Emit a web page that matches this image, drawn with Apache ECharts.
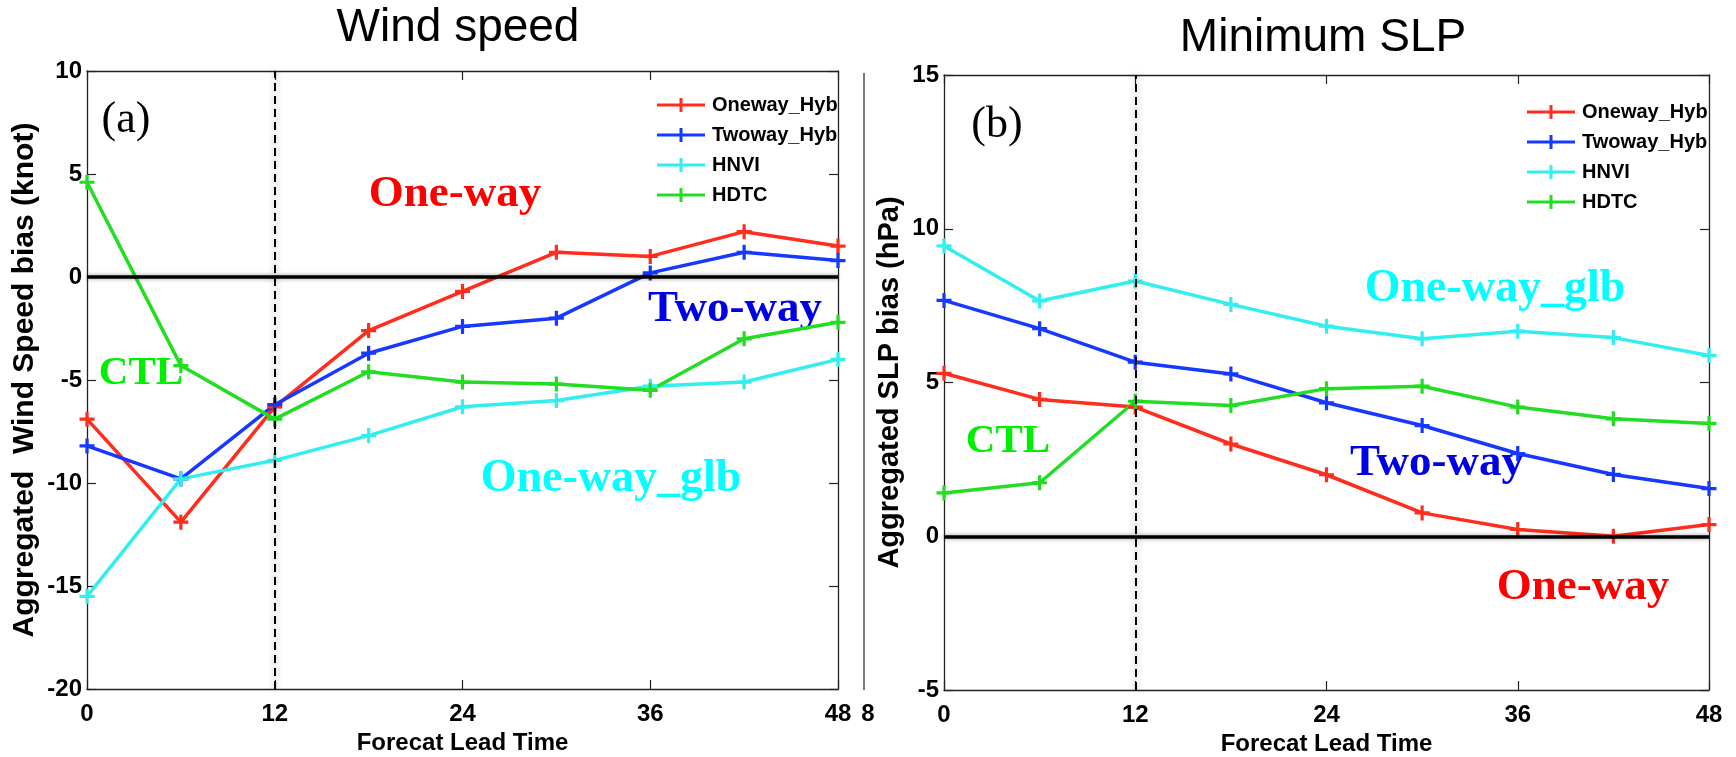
<!DOCTYPE html>
<html>
<head>
<meta charset="utf-8">
<title>Wind speed / Minimum SLP bias</title>
<script src="https://cdn.jsdelivr.net/npm/echarts@6/dist/echarts.min.js"></script>
<style>
  html, body { margin: 0; padding: 0; background: #fff; }
  #chart { width: 1736px; height: 757px; }
</style>
</head>
<body>
<div id="chart"></div>
<script>
// forecast lead times (h)
const leadTimes = [0, 6, 12, 18, 24, 30, 36, 42, 48];

// (a) wind speed bias, knot
const windOneway = [-6.9, -11.9, -6.3, -2.6, -0.7, 1.2, 1.0, 2.2, 1.5];
const windTwoway = [-8.2, -9.8, -6.2, -3.7, -2.4, -2.0, 0.2, 1.2, 0.8];
const windHnvi = [-15.5, -9.8, -8.9, -7.7, -6.3, -6.0, -5.3, -5.1, -4.0];
const windHdtc = [4.6, -4.3, -6.9, -4.6, -5.1, -5.2, -5.5, -3.0, -2.2];

// (b) minimum SLP bias, hPa
const slpOneway = [5.3, 4.45, 4.2, 3.0, 2.0, 0.76, 0.22, 0.0, 0.38];
const slpTwoway = [7.67, 6.75, 5.66, 5.28, 4.34, 3.6, 2.69, 2.01, 1.55];
const slpHnvi = [9.44, 7.65, 8.3, 7.54, 6.83, 6.42, 6.67, 6.46, 5.88];
const slpHdtc = [1.41, 1.74, 4.39, 4.25, 4.8, 4.88, 4.2, 3.82, 3.67];

const seriesNames = ["Oneway_Hyb", "Twoway_Hyb", "HNVI", "HDTC"];
const seriesColors = ["#ff2d1e", "#1638ff", "#33eeee", "#22dd22"];

const plus = "path://M5.5,0 L8.5,0 L8.5,14 L5.5,14 Z M0,5.5 L14,5.5 L14,8.5 L0,8.5 Z";
const legendIcon = "path://M0,5.5 L48,5.5 L48,8.5 L0,8.5 Z M22.5,0 L25.5,0 L25.5,14 L22.5,14 Z";
const sans = "'Liberation Sans', Arial, sans-serif";
const serif = "'Liberation Serif', 'Times New Roman', serif";

const chart = echarts.init(document.getElementById("chart"));

function pairs(values) {
  return leadTimes.map((t, i) => [t, values[i]]);
}

function dataSeries(name, color, values, axis) {
  return {
    name,
    type: "line",
    xAxisIndex: axis,
    yAxisIndex: axis,
    data: pairs(values),
    symbol: plus,
    symbolSize: 15,
    showAllSymbol: true,
    itemStyle: { color },
    lineStyle: { color, width: 3.5 },
    emphasis: { disabled: true },
    animation: false,
    z: 3,
  };
}

function refSeries(axis) {
  return [
    {
      type: "line",
      xAxisIndex: axis,
      yAxisIndex: axis,
      data: [],
      silent: true,
      z: 1,
      markLine: {
        symbol: "none",
        silent: true,
        label: { show: false },
        animation: false,
        data: [{ yAxis: 0, lineStyle: { color: "#000", width: 3.5, type: "solid", shadowColor: "rgba(0,0,0,0.4)", shadowBlur: 4 } }],
      },
    },
    {
      type: "line",
      xAxisIndex: axis,
      yAxisIndex: axis,
      data: [],
      silent: true,
      z: 5,
      markLine: {
        symbol: "none",
        silent: true,
        label: { show: false },
        animation: false,
        data: [{ xAxis: 12, lineStyle: { color: "#000", width: 2, type: [8, 5], shadowColor: "rgba(0,0,0,0.4)", shadowBlur: 6 } }],
      },
    },
  ];
}

function xAxes(grid) {
  const common = {
    type: "value",
    gridIndex: grid,
    min: 0,
    max: 48,
    interval: 12,
    splitLine: { show: false },
    axisLine: { show: true, onZero: false, lineStyle: { color: "#222", width: 1.3 } },
    axisTick: { show: true, inside: true, length: 9, lineStyle: { color: "#222", width: 1.2 } },
  };
  return [
    Object.assign({}, common, {
      position: "bottom",
      name: "Forecat Lead Time",
      nameLocation: "middle",
      nameGap: 38,
      nameTextStyle: { fontFamily: sans, fontWeight: "bold", fontSize: 24, color: "#000" },
      axisLabel: { fontFamily: sans, fontWeight: "bold", fontSize: 24, color: "#000", margin: 13 },
    }),
    Object.assign({}, common, { position: "top", axisLabel: { show: false } }),
  ];
}

function yAxes(grid, min, max, name, nameSize, nameGap) {
  const common = {
    type: "value",
    gridIndex: grid,
    min,
    max,
    interval: 5,
    splitLine: { show: false },
    axisLine: { show: true, onZero: false, lineStyle: { color: "#222", width: 1.3 } },
    axisTick: { show: true, inside: true, length: 9, lineStyle: { color: "#222", width: 1.2 } },
  };
  return [
    Object.assign({}, common, {
      position: "left",
      name,
      nameLocation: "middle",
      nameGap,
      nameTextStyle: { fontFamily: sans, fontWeight: "bold", fontSize: nameSize, color: "#000" },
      axisLabel: { fontFamily: sans, fontWeight: "bold", fontSize: 24, color: "#000", margin: 5 },
    }),
    Object.assign({}, common, { position: "right", axisLabel: { show: false } }),
  ];
}

function legendAt(left, top) {
  return {
    data: seriesNames,
    orient: "vertical",
    left,
    top,
    icon: legendIcon,
    itemWidth: 48,
    itemHeight: 14,
    itemGap: 10,
    selectedMode: false,
    textStyle: { fontFamily: sans, fontWeight: "bold", fontSize: 20, color: "#000", padding: [0, 0, 0, 2] },
  };
}

function note(text, x, y, color, size) {
  return {
    type: "text",
    x,
    y,
    silent: true,
    style: { text, fill: color, font: "bold " + size + "px " + serif, align: "center", verticalAlign: "middle" },
  };
}

function label(text, x, y, font) {
  return {
    type: "text",
    x,
    y,
    silent: true,
    style: { text, fill: "#000", font, align: "center", verticalAlign: "middle" },
  };
}

const windSets = [windOneway, windTwoway, windHnvi, windHdtc];
const slpSets = [slpOneway, slpTwoway, slpHnvi, slpHdtc];

const series = []
  .concat(refSeries(0))
  .concat(seriesNames.map((n, i) => dataSeries(n, seriesColors[i], windSets[i], 0)))
  .concat(refSeries(2))
  .concat(seriesNames.map((n, i) => dataSeries(n, seriesColors[i], slpSets[i], 2)));

// second-panel axes share the same helper, the top/right copies only draw the box
const option = {
  backgroundColor: "#fff",
  animation: false,
  grid: [
    { left: 87, top: 71, width: 751, height: 618, containLabel: false, outerBoundsMode: "none" },
    { left: 944, top: 75, width: 765, height: 615, containLabel: false, outerBoundsMode: "none" },
  ],
  xAxis: xAxes(0).concat(xAxes(1)),
  yAxis: yAxes(0, -20, 10, "Aggregated  Wind Speed bias (knot)", 30, 47)
    .concat(yAxes(1, -5, 15, "Aggregated SLP bias (hPa)", 29, 40)),
  legend: [legendAt(652, 90), legendAt(1522, 97)],
  series,
  graphic: [
    label("Wind speed", 458, 28, "46px " + sans),
    label("Minimum SLP", 1323, 38, "46px " + sans),
    {
      type: "text",
      x: 126,
      y: 120,
      silent: true,
      style: { text: "(a)", fill: "#000", font: "44px " + serif, align: "center", verticalAlign: "middle" },
    },
    {
      type: "text",
      x: 997,
      y: 125,
      silent: true,
      style: { text: "(b)", fill: "#000", font: "44px " + serif, align: "center", verticalAlign: "middle" },
    },
    note("One-way", 455, 194, "#ff0000", 45),
    note("Two-way", 735, 309, "#0000e6", 45),
    note("One-way_glb", 611, 479, "#00ffff", 46),
    note("CTL", 141, 373, "#00ee00", 41),
    note("One-way_glb", 1495, 289, "#00ffff", 46),
    note("Two-way", 1437, 463, "#0000e6", 45),
    note("One-way", 1583, 587, "#ff0000", 45),
    note("CTL", 1008, 441, "#00ee00", 41),
    // clipped edge of a neighbouring panel between the two plots
    {
      type: "line",
      silent: true,
      shape: { x1: 864, y1: 73, x2: 864, y2: 690 },
      style: { stroke: "#222", lineWidth: 1.2 },
    },
    label("8", 868, 714, "bold 24px " + sans),
  ],
};

chart.setOption(option);
</script>
</body>
</html>
